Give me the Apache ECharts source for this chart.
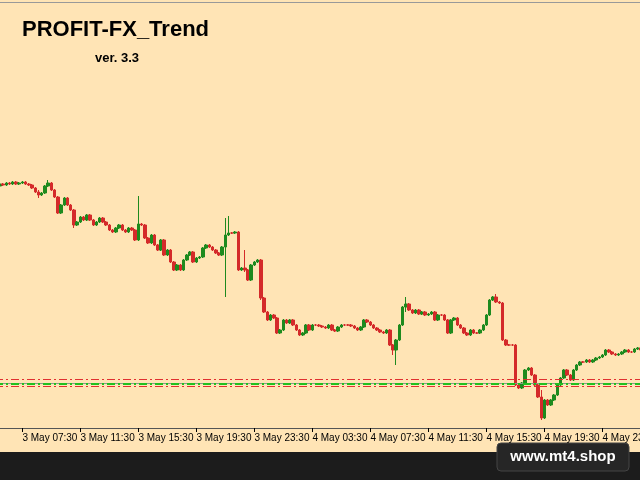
<!DOCTYPE html>
<html>
<head>
<meta charset="utf-8">
<script src="https://cdn.jsdelivr.net/npm/echarts@6/dist/echarts.min.js"></script>
<style>
  html, body { margin: 0; padding: 0; background: #FFE4B5; }
  #chart { width: 640px; height: 480px; }
</style>
</head>
<body>
<div id="chart"></div>
<script>
// closes of each M15 bar (price level, axis is inverted like the screen)
var closes = [
    186, 184, 185, 183, 184, 182, 184, 183, 182, 184, 185,
    188, 192, 195, 193, 186, 183, 190, 197, 213, 205, 198, 205, 210, 225, 222, 217, 220, 215, 220,
    225, 222, 218, 222, 225, 230, 232, 228, 225, 230, 232, 228, 230, 240, 224, 225, 238, 243, 235, 245, 250,
    240, 255, 250, 262, 270, 265, 270, 260, 255, 252, 262, 258, 257, 248, 245, 247, 250, 253, 255, 247,
    235, 233, 233, 232, 270, 268, 270, 280, 265, 262, 260, 298, 312, 320, 315, 318, 333, 330, 320, 323,
    320, 325, 330, 335, 333, 325,
    330, 325, 325, 326, 327, 328, 325, 330, 331, 327, 325, 325, 325, 326, 328, 330, 327, 320, 322, 325,
    328, 330, 332, 333, 330, 345, 350, 340, 325, 307, 304, 310, 313, 310, 314, 312, 315, 314, 312, 320,
    315, 315, 320, 333, 320, 318, 325, 328, 333, 335, 330,
    333, 333, 330, 325, 315, 300, 297, 302, 303, 340, 345, 345, 345, 385, 388, 383, 370, 368, 375, 385,
    397, 418, 400, 405, 400, 395, 385, 378, 370, 375, 380, 370, 365, 362, 362, 360, 362, 360, 358, 357,
    355, 350, 352, 354, 355, 354, 352, 350, 352, 352, 349, 348, 350, 349
];
var firstOpen = 187;
// long wicks that stand out: [bar, high, low]
var bigWicks = [
    [13, 190, 198], [16, 180, 184], [24, 221, 228], [44, 196, 241], [71, 218, 297],
    [72, 216, 236], [77, 250, 272], [123, 345, 355], [124, 345, 365], [127, 297, 312],
    [155, 294, 303], [169, 390, 420], [82, 262, 300]
];
var levels = [
    { value: 379, color: '#E03030', type: [8, 3, 2, 3], width: 1 },
    { value: 383, color: '#8A9A8A', type: 'solid', width: 1 },
    { value: 384, color: '#20C020', type: [8, 3, 2, 3], width: 2 },
    { value: 386, color: '#E03030', type: [8, 3, 2, 3], width: 1 }
];
var labelEvery = 18;
var labelOffset = 8;
var startHour = 7, startMin = 30; // time of bar labelOffset: 3 May 07:30

var n = closes.length;
var candles = [];
var cats = [];
for (var i = 0; i < n; i++) {
    var o = i === 0 ? firstOpen : closes[i - 1];
    var c = closes[i];
    var hi = Math.min(o, c) - 1;
    var lo = Math.max(o, c) + 1;
    bigWicks.forEach(function (w) {
        if (w[0] === i) { hi = Math.min(hi, w[1]); lo = Math.max(lo, w[2]); }
    });
    candles.push([o, c, hi, lo]);
    var k = Math.floor((i - labelOffset) / labelEvery);
    var mins = startHour * 60 + startMin + k * 240;
    var day = 3 + Math.floor(mins / 1440);
    var m = ((mins % 1440) + 1440) % 1440;
    var hh = Math.floor(m / 60), mm = m % 60;
    cats.push(day + ' May ' + (hh < 10 ? '0' : '') + hh + ':' + (mm < 10 ? '0' : '') + mm);
}
function isLabel(idx) { return (idx - labelOffset) % labelEvery === 0; }

var chart = echarts.init(document.getElementById('chart'));
chart.setOption({
    backgroundColor: '#FFE4B5',
    animation: false,
    grid: { left: -5, right: -6, top: 0, bottom: 52, outerBoundsMode: 'none', containLabel: false },
    xAxis: {
        type: 'category',
        data: cats,
        axisLine: { onZero: false, lineStyle: { color: '#555', width: 1 } },
        axisTick: { show: true, interval: function (idx) { return isLabel(idx); }, length: 4, lineStyle: { color: '#000', width: 1 }, alignWithLabel: true },
        axisLabel: {
            interval: function (idx) { return isLabel(idx); },
            showMinLabel: true, hideOverlap: false,
            align: 'left', color: '#000', fontSize: 10, fontFamily: 'Liberation Sans, Arial', margin: 5
        },
        splitLine: { show: false }
    },
    yAxis: {
        type: 'value', inverse: true, min: 0, max: 428,
        show: false
    },
    graphic: [
        { type: 'rect', shape: { x: 0, y: 2, width: 640, height: 1 }, style: { fill: '#999' } },
        { type: 'rect', shape: { x: 0, y: 452, width: 640, height: 28 }, style: { fill: '#1c1c1c' } },
        { type: 'rect', shape: { x: 497, y: 443, width: 132, height: 28, r: 4 }, style: { fill: '#262626', stroke: '#444' } },
        { type: 'text', x: 563, y: 457, style: { text: 'www.mt4.shop', fill: '#fff', font: 'bold 15px Liberation Sans, Arial', align: 'center', verticalAlign: 'middle' } },
        { type: 'text', x: 22, y: 30, style: { text: 'PROFIT-FX_Trend', fill: '#000', font: 'bold 22px Liberation Sans, Arial', verticalAlign: 'middle' } },
        { type: 'text', x: 95, y: 58, style: { text: 'ver. 3.3', fill: '#000', font: 'bold 13px Liberation Sans, Arial', verticalAlign: 'middle' } }
    ],
    series: [{
        type: 'candlestick',
        data: candles,
        barWidth: 3,
        itemStyle: {
            // inverted axis: close < open means price went up on screen
            color: '#D42A2A', color0: '#1E8A1E',
            borderColor: '#D42A2A', borderColor0: '#1E8A1E', borderWidth: 1
        },
        markLine: {
            silent: true, symbol: 'none', label: { show: false },
            data: levels.map(function (l) {
                return { yAxis: l.value, lineStyle: { color: l.color, type: l.type, width: l.width } };
            })
        }
    }]
});
</script>
</body>
</html>
